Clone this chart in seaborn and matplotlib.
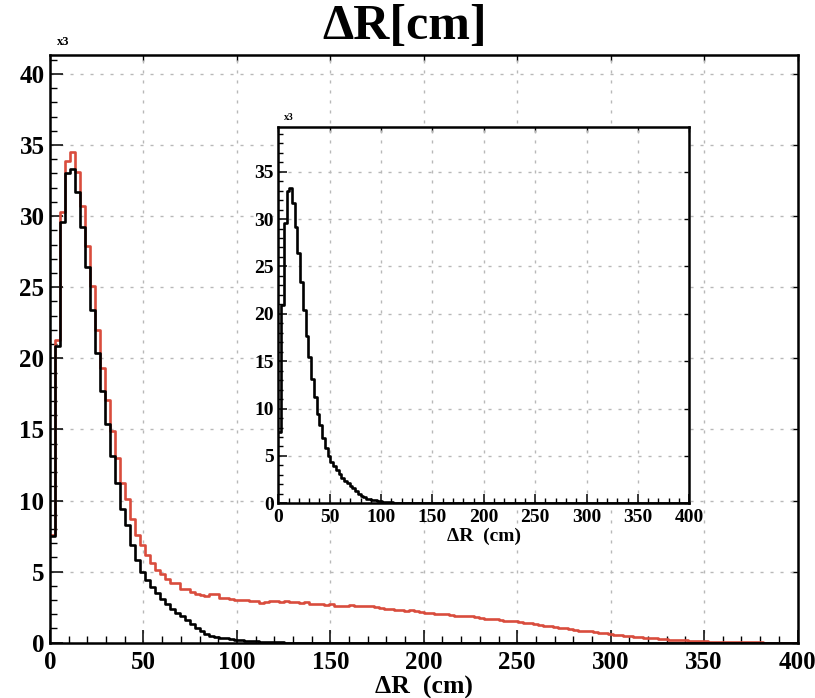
import numpy as np
import pandas as pd
import matplotlib
matplotlib.use("Agg")
import matplotlib.pyplot as plt
from matplotlib.ticker import MultipleLocator
import seaborn as sns

# ---- data (counts in thousands, 150 bins from 0 to 400 cm) ----
x_min, x_max, n_bins = 0, 400, 150

black_counts = [
    7.5, 20.9, 29.6, 33.0, 33.3, 31.7, 29.2, 26.4, 23.4, 20.4,
    17.7, 15.4, 13.1, 11.2, 9.4, 8.3, 6.9, 5.85, 5.0, 4.4,
    3.95, 3.5, 3.1, 2.7, 2.4, 2.1, 1.85, 1.6, 1.3, 1.0,
    0.8, 0.62, 0.5, 0.42, 0.36, 0.3, 0.26, 0.22, 0.18, 0.15,
    0.12, 0.1, 0.08, 0.06, 0.05, 0.04, 0.03, 0, 0, 0,
    0, 0, 0, 0, 0, 0, 0, 0, 0, 0,
    0, 0, 0, 0, 0, 0, 0, 0, 0, 0,
    0, 0, 0, 0, 0, 0, 0, 0, 0, 0,
    0, 0, 0, 0, 0, 0, 0, 0, 0, 0,
    0, 0, 0, 0, 0, 0, 0, 0, 0, 0,
    0, 0, 0, 0, 0, 0, 0, 0, 0, 0,
    0, 0, 0, 0, 0, 0, 0, 0, 0, 0,
    0, 0, 0, 0, 0, 0, 0, 0, 0, 0,
    0, 0, 0, 0, 0, 0, 0, 0, 0, 0,
    0, 0, 0, 0, 0, 0, 0, 0, 0, 0,
]

red_counts = [
    7.6, 21.3, 30.3, 33.9, 34.5, 33.1, 30.7, 27.9, 25.1, 22.0,
    19.3, 17.1, 14.9, 13.0, 11.2, 10.1, 8.7, 7.6, 6.9, 6.2,
    5.6, 5.1, 4.8, 4.5, 4.2, 4.2, 3.8, 3.8, 3.6, 3.4,
    3.35, 3.3, 3.45, 3.4, 3.15, 3.15, 3.1, 3.0, 3.0, 3.0,
    2.95, 2.95, 2.8, 2.85, 2.9, 2.9, 2.85, 2.9, 2.85, 2.85,
    2.8, 2.85, 2.75, 2.75, 2.7, 2.65, 2.75, 2.6, 2.55, 2.55,
    2.65, 2.6, 2.55, 2.55, 2.55, 2.5, 2.45, 2.4, 2.35, 2.3,
    2.3, 2.25, 2.3, 2.2, 2.15, 2.1, 2.1, 2.05, 2.0, 2.05,
    1.95, 1.9, 1.9, 1.85, 1.85, 1.8, 1.75, 1.7, 1.7, 1.65,
    1.6, 1.55, 1.55, 1.5, 1.45, 1.4, 1.4, 1.3, 1.25, 1.2,
    1.15, 1.1, 1.05, 1.0, 0.95, 0.9, 0.85, 0.8, 0.8, 0.75,
    0.7, 0.65, 0.6, 0.55, 0.55, 0.5, 0.45, 0.4, 0.38, 0.35,
    0.32, 0.3, 0.27, 0.25, 0.22, 0.2, 0.18, 0.16, 0.14, 0.12,
    0.1, 0.09, 0.08, 0.07, 0.06, 0.05, 0.04, 0.04, 0.03, 0.03,
    0.02, 0.02, 0.02, 0.01, 0.01, 0.01, 0.01, 0, 0, 0,
]

x_ticks = [0, 50, 100, 150, 200, 250, 300, 350, 400]
y_ticks_main = [0, 5, 10, 15, 20, 25, 30, 35, 40]
y_ticks_inset = [0, 5, 10, 15, 20, 25, 30, 35]

title_text = "ΔR[cm]"
xlabel_text = "ΔR  (cm)"
scale_text = "x3"

RED = "#d94c3d"
BLACK = "#000000"

edges = np.linspace(x_min, x_max, n_bins + 1)
centers = 0.5 * (edges[:-1] + edges[1:])
df = pd.DataFrame({"dR": centers, "red": red_counts, "black": black_counts})

sns.set_theme(style="white")
plt.rcParams["font.family"] = ["Liberation Serif", "DejaVu Serif"]
plt.rcParams["font.weight"] = "bold"
plt.rcParams["axes.labelweight"] = "bold"
plt.rcParams["text.color"] = "black"
plt.rcParams["axes.labelcolor"] = "black"
plt.rcParams["xtick.color"] = "black"
plt.rcParams["ytick.color"] = "black"
plt.rcParams["xtick.labelcolor"] = "black"
plt.rcParams["ytick.labelcolor"] = "black"

fig = plt.figure(figsize=(8.15, 6.98), dpi=100)
W, H = 815, 698


def px_axes(l, t, r, b):
    return [l / W, 1 - b / H, (r - l) / W, (b - t) / H]


def style_axes(ax, ymax, yticks, fs_tick, maj, mino, pad_x, pad_y,
               lw_sp, side_len):
    ax.set_xlim(x_min, x_max)
    ax.set_ylim(0, ymax)
    ax.set_xticks(x_ticks)
    ax.set_yticks(yticks)
    ax.xaxis.set_minor_locator(MultipleLocator(10))
    ax.yaxis.set_minor_locator(MultipleLocator(1))
    ax.tick_params(which="both", direction="in", top=False, right=False,
                   bottom=True, left=True, color="black", labelcolor="black")
    ax.tick_params(which="major", length=maj, width=1.1, labelsize=fs_tick)
    ax.tick_params(which="minor", length=mino, width=1.0)
    ax.tick_params(axis="x", which="major", pad=pad_x)
    ax.tick_params(axis="y", which="major", pad=pad_y)
    for lab in ax.get_xticklabels() + ax.get_yticklabels():
        lab.set_fontweight("bold")
    ax.grid(True, which="major", linestyle=(0, (2.2, 5)), color="#b8b8b8",
            linewidth=1.0)
    ax.set_axisbelow(True)
    for sp in ax.spines.values():
        sp.set_visible(True)
        sp.set_color("black")
        sp.set_linewidth(lw_sp)
    sx = ax.secondary_xaxis("top")
    sx.set_xticks(x_ticks)
    sx.tick_params(direction="in", length=side_len, width=1.0,
                   labeltop=False, color="black")
    sx.spines["top"].set_visible(False)
    sy = ax.secondary_yaxis("right")
    sy.set_yticks(yticks)
    sy.tick_params(direction="in", length=side_len, width=1.0,
                   labelright=False, color="black")
    sy.spines["right"].set_visible(False)
    ax.set_ylabel("")


def draw_hist(ax, col, color):
    sns.histplot(data=df, x="dR", weights=col, bins=n_bins,
                 binrange=(x_min, x_max), element="step", fill=False,
                 color=color, linewidth=1.9, ax=ax)


# ---------------- main axes ----------------
ax = fig.add_axes(px_axes(50, 55, 797.5, 642.7))
draw_hist(ax, "red", RED)
draw_hist(ax, "black", BLACK)
style_axes(ax, 41.33, y_ticks_main, 18, 9.4, 5.0, 6, 4, 1.8, 4.3)
ax.set_xlabel(xlabel_text, fontsize=18.5, fontweight="bold", labelpad=1,
              color="black")

fig.text(57 / W, 1 - 42 / H, scale_text, fontsize=9, fontweight="bold",
         ha="left", va="center", color="black")
fig.text(405 / W, 1 - 27 / H, title_text, fontsize=36, fontweight="bold",
         ha="center", va="center", color="black")

# ---------------- inset axes ----------------
axi = fig.add_axes(px_axes(278.3, 126.7, 689.3, 503.3))
axi.set_facecolor("white")
draw_hist(axi, "black", BLACK)
style_axes(axi, 39.75, y_ticks_inset, 14, 6.5, 3.5, 4, 3, 1.8, 3.6)
axi.set_xlabel(xlabel_text, fontsize=14, fontweight="bold", labelpad=1,
               color="black")
fig.text(284 / W, 1 - 118 / H, scale_text, fontsize=7, fontweight="bold",
         ha="left", va="center", color="black")

fig.savefig("out.png", dpi=100)
